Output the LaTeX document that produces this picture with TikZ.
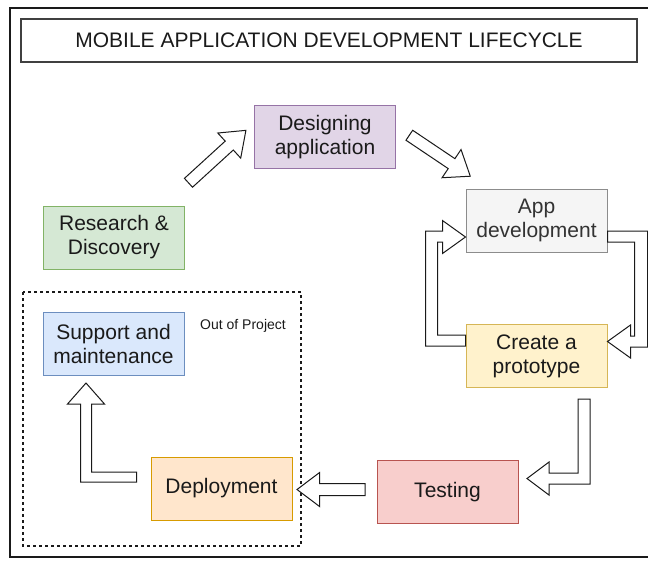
\documentclass[tikz,border=0pt]{standalone}
\usepackage{fontspec}
\setmainfont{Liberation Sans}
\usetikzlibrary{calc,shapes.arrows}
\definecolor{ink}{HTML}{1A1A1A}
\definecolor{purplefill}{HTML}{E1D5E7}
\definecolor{purpleline}{HTML}{9673A6}
\definecolor{greenfill}{HTML}{D5E8D4}
\definecolor{greenline}{HTML}{82B366}
\definecolor{grayfill}{HTML}{F5F5F5}
\definecolor{grayline}{HTML}{8C8C8C}
\definecolor{yellowfill}{HTML}{FFF2CC}
\definecolor{yellowline}{HTML}{D6B656}
\definecolor{bluefill}{HTML}{DAE8FC}
\definecolor{blueline}{HTML}{6C8EBF}
\definecolor{orangefill}{HTML}{FFE6CC}
\definecolor{orangeline}{HTML}{D79B00}
\definecolor{redfill}{HTML}{F8CECC}
\definecolor{redline}{HTML}{B85450}
\newcommand\fatlink[2]{%
  \path let \p1=($(#2)-(#1)$), \n1={atan2(\y1,\x1)}, \n2={veclen(\x1,\y1)} in
    node[fatarrow,rotate=\n1,minimum height=\n2] at ($(#1)!0.5!(#2)$) {};}

\begin{document}
\begin{tikzpicture}[x=0.5pt,y=-0.5pt,
  stage/.style={draw,rectangle,line width=0.5pt,minimum width=70.5pt,minimum height=31.5pt,
    inner sep=0pt,align=center,text=ink,font=\fontsize{10.5}{12}\selectfont},
  blockarrow/.style={draw=ink,fill=white,line width=0.5pt,line join=miter},
  fatarrow/.style={single arrow,blockarrow,inner sep=0pt,inner ysep=2.75pt,
    single arrow head extend=5.5pt,single arrow tip angle=74}]
  \useasboundingbox (0,0) rectangle (648,564);
  \draw[ink,line width=1pt] (654,8) -| (10,557) -- (654,557);
  \draw[ink,line width=1pt] (10,8) -- (654,8);

  \node[draw=black!75,line width=0.6pt,minimum width=308pt,minimum height=21.5pt,inner sep=0pt,
    text=ink,font=\fontsize{10.5}{12}\selectfont] (title) at (329,40.5)
    {MOBILE APPLICATION DEVELOPMENT LIFECYCLE};

  \draw[ink,line width=0.6pt,dash pattern=on 1.5pt off 1.5pt] (23,292) rectangle (301,546);
  \node[text=ink,font=\fontsize{7}{8}\selectfont] (outproj) at (243,326) {Out of Project};

  \node[stage,fill=purplefill,draw=purpleline] (design) at (325,137) {Designing\\application};
  \node[stage,fill=greenfill,draw=greenline] (research) at (114,237.5) {Research \&\\Discovery};
  \node[stage,fill=grayfill,draw=grayline,text=black!80] (appdev) at (536.5,220.5) {App\\development};
  \node[stage,fill=yellowfill,draw=yellowline] (proto) at (536.5,356) {Create a\\prototype};
  \node[stage,fill=bluefill,draw=blueline] (support) at (113.5,343.5) {Support and\\maintenance};
  \node[stage,fill=orangefill,draw=orangeline] (deploy) at (221.5,488.5) {Deployment};
  \node[stage,fill=redfill,draw=redline] (test) at (447.5,492) {Testing};

  \coordinate (rd-tail) at (185.5,185.5);
  \coordinate (rd-tip) at (243,133);
  \coordinate (da-tail) at (406,133);
  \coordinate (da-tip) at (467,174);
  \coordinate (td-tail) at (369,489.5);
  \coordinate (td-tip) at (301,489.5);
  \fatlink{rd-tail}{rd-tip}
  \fatlink{da-tail}{da-tip}
  \fatlink{td-tail}{td-tip}

  \draw[blockarrow] ($(appdev.east)+(0,10.5)$) -- ++(40,0) -- ++(0,116) -- ++(-17,0) -- ++(0,11)
    -- ++(-23,-16.5) -- ++(23,-16.5) -- ++(0,11) -- ++(4,0) -- ++(0,-94) -- ++(-27,0) -- cycle;
  \draw[blockarrow] ($(proto.west)+(0,-10)$) -- ++(-40,0) -- ++(0,-115) -- ++(17,0) -- ++(0,-10.5)
    -- ++(23,16.5) -- ++(-23,16.5) -- ++(0,-11.5) -- ++(-5,0) -- ++(0,93) -- ++(28,0) -- cycle;
  \draw[blockarrow] ($(proto.south)+(41.5,11)$) -- ++(12,0) -- ++(0,85) -- ++(-41,0) -- ++(0,11)
    -- ++(-22,-16.5) -- ++(22,-16.5) -- ++(0,11) -- ++(29,0) -- cycle;
  \draw[blockarrow] ($(deploy.west)+(-14,-16.5)$) -- ++(0,10) -- ++(-56,0) -- ++(0,-78) -- ++(-13,0)
    -- ++(18.5,-21) -- ++(18.5,21) -- ++(-13,0) -- ++(0,68) -- cycle;
\end{tikzpicture}
\end{document}
